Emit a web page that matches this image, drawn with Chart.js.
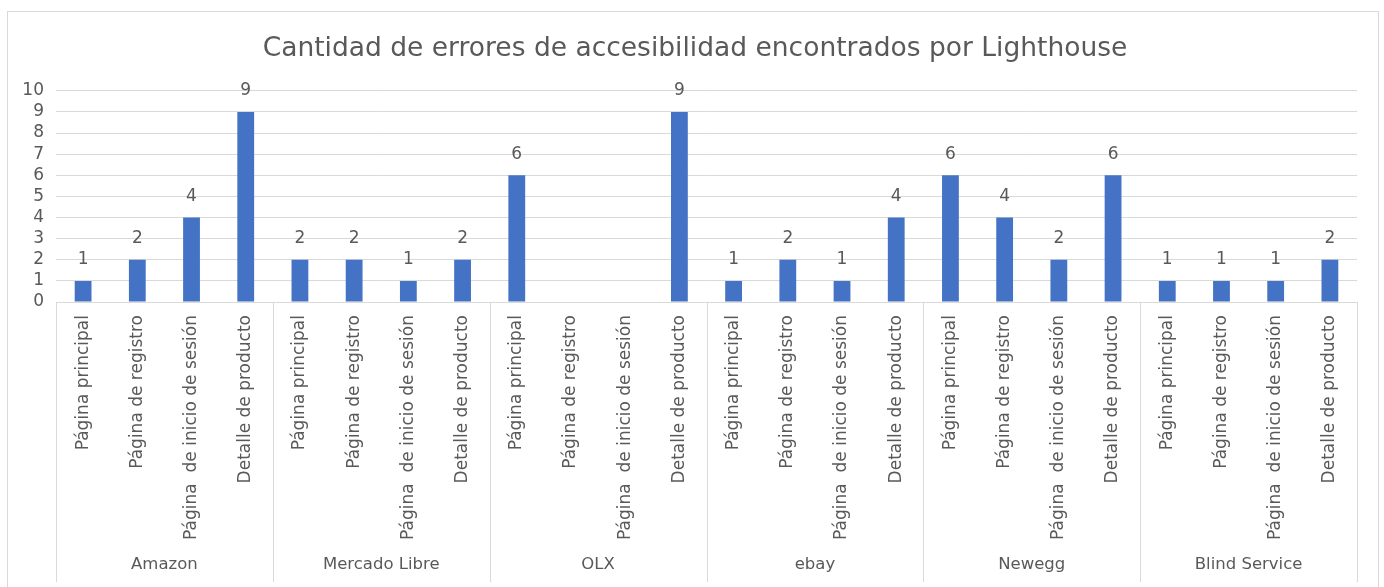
<!DOCTYPE html>
<html>
<head>
<meta charset="utf-8">
<script src="https://cdn.jsdelivr.net/npm/chart.js@4.4.1/dist/chart.umd.min.js"></script>
<style>
  body { margin: 0; background: #fff; overflow: hidden; }
  #wrap { position: absolute; left: 0; top: 0; width: 1384px; height: 587px; }
  #frame { position: absolute; left: 7px; top: 11px; width: 1370px; height: 620px; border: 1px solid #d9d9d9; }
</style>
</head>
<body>
<div id="frame"></div>
<div id="wrap"><canvas id="canvas"></canvas></div>
<script>
// sites (groups along the x axis)
const sites = ['Amazon', 'Mercado Libre', 'OLX', 'ebay', 'Newegg', 'Blind Service'];
// pages evaluated for each site
const pages = ['Página principal', 'Página de registro', 'Página  de inicio de sesión', 'Detalle de producto'];
// errors found, one list per site (same order as pages), null = no value
const amazon = [1, 2, 4, 9];
const mercadoLibre = [2, 2, 1, 2];
const olx = [6, null, null, 9];
const ebay = [1, 2, 1, 4];
const newegg = [6, 4, 2, 6];
const blindService = [1, 1, 1, 2];
const yTicks = [0, 1, 2, 3, 4, 5, 6, 7, 8, 9, 10];

const siteValues = [amazon, mercadoLibre, olx, ebay, newegg, blindService];
const labels = [];
const values = [];
siteValues.forEach(function(list){
  list.forEach(function(v, i){
    labels.push(pages[i]);
    values.push(v);
  });
});

const textColor = '#595959';
const lineColor = '#d9d9d9';
const fontFamily = "'DejaVu Sans', sans-serif";

// value labels over each bar
const barLabels = {
  id: 'barLabels',
  afterDatasetsDraw(chart){
    const ctx = chart.ctx;
    const meta = chart.getDatasetMeta(0);
    ctx.save();
    ctx.font = '17px ' + fontFamily;
    ctx.fillStyle = textColor;
    ctx.textAlign = 'center';
    ctx.textBaseline = 'middle';
    meta.data.forEach(function(bar, i){
      const v = chart.data.datasets[0].data[i];
      if(v === null) return;
      ctx.fillText(String(v), bar.x, bar.y - 21);
    });
    ctx.restore();
  }
}

// site names under the page labels, with separators
const siteGroups = {
  id: 'siteGroups',
  afterDraw(chart){
    const ctx = chart.ctx;
    const x = chart.scales.x;
    const per = pages.length;
    const catW = (x.right - x.left) / labels.length;
    const top = chart.chartArea.bottom;
    const bottom = chart.height - 5;
    ctx.save();
    ctx.strokeStyle = lineColor;
    ctx.lineWidth = 1;
    for(let g = 0; g <= sites.length; g++){
      const px = Math.round(x.left + g * per * catW) + 0.5;
      ctx.beginPath();
      ctx.moveTo(px, top);
      ctx.lineTo(px, bottom);
      ctx.stroke();
    }
    ctx.font = '16.5px ' + fontFamily;
    ctx.fillStyle = textColor;
    ctx.textAlign = 'center';
    ctx.textBaseline = 'middle';
    sites.forEach(function(s, g){
      const cx = x.left + (g + 0.5) * per * catW;
      ctx.fillText(s, cx, 565);
    });
    ctx.restore();
  }
}

// the title sits a little right of the canvas centre
const titleShift = {
  id: 'titleShift',
  afterLayout(chart){
    if(chart.titleBlock){
      chart.titleBlock.left += 33;
    }
  }
}

new Chart(document.getElementById('canvas'), {
  type: 'bar',
  plugins: [barLabels, siteGroups, titleShift],
  data: {
    labels: labels,
    datasets: [{
      data: values,
      backgroundColor: '#4472c4',
      barPercentage: 0.31,
      categoryPercentage: 1
    }]
  },
  options: {
    responsive: true,
    maintainAspectRatio: false,
    animation: false,
    devicePixelRatio: 1,
    layout: { padding: { left: 0, right: 27, top: 0, bottom: 0 } },
    plugins: {
      legend: { display: false },
      tooltip: { enabled: false },
      title: {
        display: true,
        text: 'Cantidad de errores de accesibilidad encontrados por Lighthouse',
        color: textColor,
        font: { family: fontFamily, size: 26.5, weight: 'normal' },
        padding: { top: 33, bottom: 26 }
      }
    },
    scales: {
      x: {
        grid: { display: false },
        border: { display: true, color: lineColor },
        ticks: {
          autoSkip: false,
          minRotation: 90,
          maxRotation: 90,
          padding: 5,
          color: textColor,
          font: { family: fontFamily, size: 17 }
        },
        afterFit(scale){ scale.height = 285; }
      },
      y: {
        min: 0,
        max: 10,
        afterBuildTicks(scale){ scale.ticks = yTicks.map(v => ({ value: v })); },
        grid: { color: lineColor, drawTicks: false },
        border: { display: false },
        ticks: {
          autoSkip: false,
          padding: 12,
          color: textColor,
          font: { family: fontFamily, size: 17 }
        },
        afterFit(scale){ scale.width = 56; }
      }
    }
  }
});
</script>
</body>
</html>
